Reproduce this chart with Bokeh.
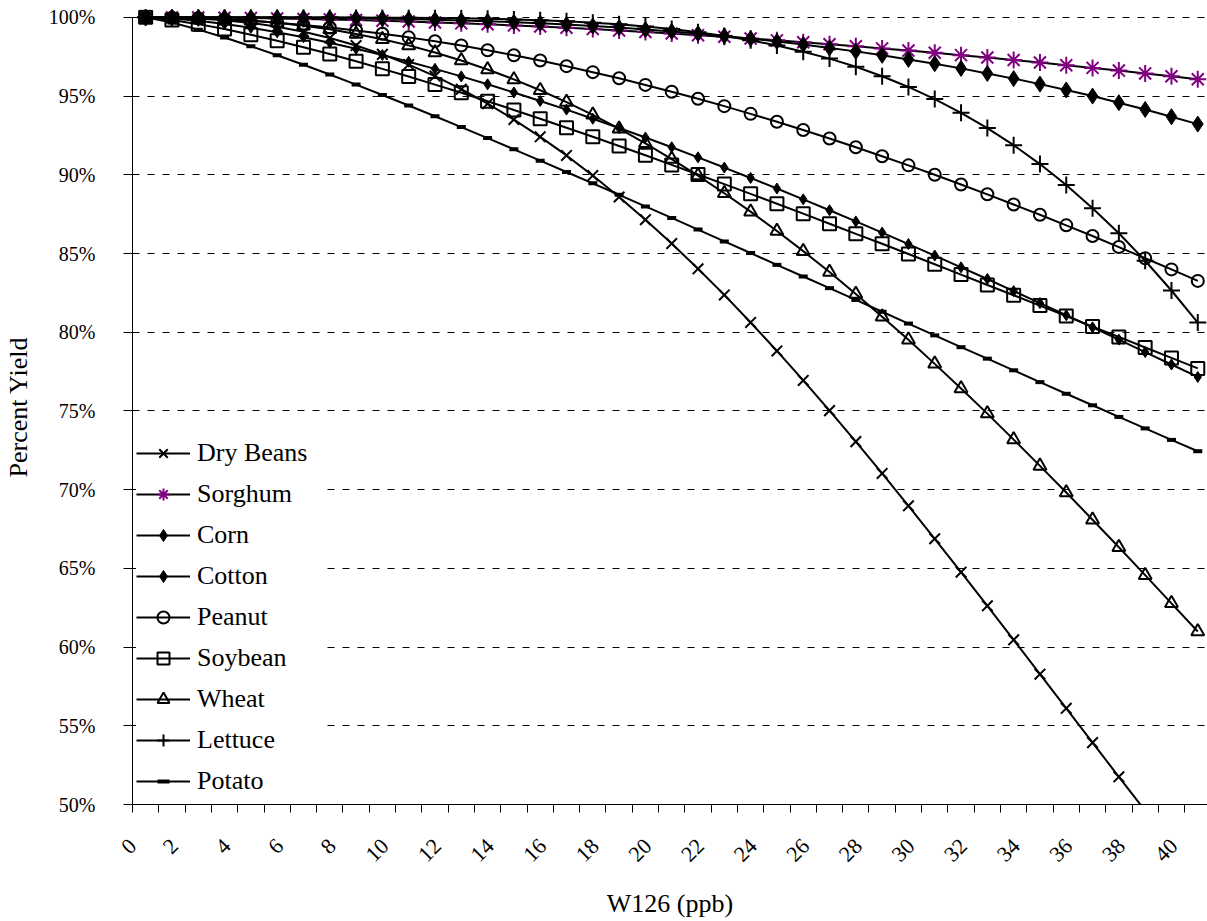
from math import pi
from bokeh.plotting import figure
from bokeh.models import Range1d, FixedTicker, PrintfTickFormatter, Legend, LegendItem
from bokeh.embed import file_html
from bokeh.resources import INLINE

# ---- data (percent yield) ----
w126 = [0, 1, 2, 3, 4, 5, 6, 7, 8, 9, 10, 11, 12, 13, 14, 15, 16, 17, 18, 19, 20,
        21, 22, 23, 24, 25, 26, 27, 28, 29, 30, 31, 32, 33, 34, 35, 36, 37, 38, 39, 40]
tick_labels = [0, 2, 4, 6, 8, 10, 12, 14, 16, 18, 20, 22, 24, 26, 28, 30, 32, 34, 36, 38, 40]
y_ticks = [50, 55, 60, 65, 70, 75, 80, 85, 90, 95, 100]

dry_beans = [100.00, 99.99, 99.93, 99.82, 99.65, 99.41, 99.09, 98.69, 98.21, 97.65, 97.00,
             96.27, 95.44, 94.52, 93.51, 92.41, 91.23, 89.95, 88.59, 87.15, 85.63,
             84.03, 82.37, 80.62, 78.81, 76.94, 75.02, 73.05, 71.03, 68.97, 66.88,
             64.76, 62.62, 60.46, 58.28, 56.11, 53.93, 51.76, 49.61, 47.46, 45.34]
sorghum = [100.00, 100.00, 99.99, 99.98, 99.96, 99.93, 99.90, 99.87, 99.83, 99.79, 99.74,
           99.68, 99.62, 99.56, 99.49, 99.42, 99.34, 99.26, 99.17, 99.07, 98.98,
           98.87, 98.77, 98.66, 98.54, 98.42, 98.29, 98.16, 98.03, 97.89, 97.75,
           97.60, 97.45, 97.29, 97.13, 96.96, 96.79, 96.62, 96.44, 96.26, 96.07]
corn = [100.00, 100.00, 100.00, 100.00, 99.99, 99.99, 99.97, 99.96, 99.94, 99.92, 99.89,
        99.85, 99.80, 99.75, 99.69, 99.62, 99.54, 99.45, 99.35, 99.23, 99.11,
        98.97, 98.82, 98.65, 98.47, 98.28, 98.06, 97.84, 97.59, 97.33, 97.06,
        96.76, 96.44, 96.11, 95.76, 95.39, 95.00, 94.58, 94.15, 93.69, 93.22]
cotton = [100.00, 99.93, 99.78, 99.58, 99.34, 99.05, 98.74, 98.39, 98.01, 97.61, 97.18,
          96.73, 96.25, 95.75, 95.23, 94.69, 94.14, 93.56, 92.97, 92.37, 91.75,
          91.11, 90.46, 89.80, 89.13, 88.44, 87.75, 87.04, 86.33, 85.60, 84.87,
          84.12, 83.38, 82.61, 81.85, 81.08, 80.31, 79.53, 78.74, 77.95, 77.16]
peanut = [100.00, 99.98, 99.94, 99.87, 99.78, 99.66, 99.52, 99.36, 99.17, 98.96, 98.73,
          98.48, 98.21, 97.91, 97.59, 97.26, 96.90, 96.52, 96.13, 95.71, 95.28,
          94.83, 94.36, 93.87, 93.37, 92.85, 92.31, 91.75, 91.18, 90.60, 90.00,
          89.38, 88.76, 88.11, 87.46, 86.79, 86.11, 85.41, 84.70, 83.99, 83.26]
soybean = [100.00, 99.83, 99.57, 99.26, 98.90, 98.52, 98.10, 97.67, 97.21, 96.73, 96.24,
           95.73, 95.21, 94.67, 94.12, 93.56, 92.99, 92.42, 91.83, 91.24, 90.63,
           90.02, 89.41, 88.79, 88.16, 87.53, 86.89, 86.25, 85.62, 84.97, 84.32,
           83.66, 83.00, 82.35, 81.69, 81.03, 80.36, 79.70, 79.03, 78.37, 77.70]
wheat = [100.00, 99.99, 99.96, 99.90, 99.80, 99.66, 99.47, 99.24, 98.95, 98.61, 98.22,
         97.77, 97.26, 96.69, 96.06, 95.37, 94.62, 93.81, 92.93, 92.00, 91.00,
         89.95, 88.83, 87.66, 86.43, 85.15, 83.82, 82.43, 80.99, 79.52, 77.99,
         76.43, 74.83, 73.18, 71.51, 69.82, 68.09, 66.34, 64.57, 62.78, 60.99]
lettuce = [100.00, 100.00, 100.00, 100.00, 100.00, 100.00, 100.00, 100.00, 99.99, 99.98, 99.97,
           99.96, 99.94, 99.91, 99.87, 99.82, 99.75, 99.66, 99.56, 99.42, 99.26,
           99.06, 98.82, 98.54, 98.21, 97.82, 97.38, 96.86, 96.26, 95.58, 94.81,
           93.94, 92.97, 91.88, 90.68, 89.35, 87.88, 86.29, 84.54, 82.65, 80.61]
potato = [100.00, 99.67, 99.22, 98.72, 98.17, 97.59, 96.99, 96.37, 95.73, 95.07, 94.40,
          93.72, 93.03, 92.33, 91.62, 90.90, 90.18, 89.46, 88.73, 87.99, 87.26,
          86.52, 85.77, 85.03, 84.28, 83.54, 82.80, 82.05, 81.30, 80.55, 79.80,
          79.05, 78.32, 77.58, 76.83, 76.09, 75.36, 74.62, 73.89, 73.16, 72.44]

series_names = ["Dry Beans", "Sorghum", "Corn", "Cotton", "Peanut", "Soybean", "Wheat", "Lettuce", "Potato"]
series_values = [dry_beans, sorghum, corn, cotton, peanut, soybean, wheat, lettuce, potato]

# marker styles (marker, size, line colour, fill colour, marker line width)
styles = [
    ("x", 15, "black", None, 2),
    ("asterisk", 17, "#800080", None, 2),
    ("diamond", 16, "black", "black", 1),
    ("diamond", 11, "black", "black", 1),
    ("circle", 12, "black", None, 2),
    ("square", 13, "black", None, 2),
    ("triangle", 13, "black", None, 2),
    ("cross", 17, "black", None, 2),
    ("dash", 9, "black", None, 4),
]

FONT = "Liberation Serif"

p = figure(width=1207, height=921, output_backend="svg", toolbar_location=None,
           x_range=Range1d(-0.5, 40.37), y_range=Range1d(50, 100.5),
           min_border_left=130, min_border_right=0, min_border_top=9, min_border_bottom=117)
p.outline_line_color = None
p.background_fill_color = "white"
p.border_fill_color = "white"

p.xgrid.visible = False
p.ygrid.grid_line_color = "black"
p.ygrid.grid_line_width = 1
p.ygrid.grid_line_dash = "7 8"

# x axis: labels every 2 (set slightly left of their category, as in the
# original), tick marks between categories
label_pos = [(-0.49 if v == 0 else round(v - 0.9, 2)) for v in tick_labels]
xa = p.xaxis[0]
xa.ticker = FixedTicker(ticks=label_pos, minor_ticks=[v - 0.5 for v in w126])
xa.major_label_overrides = {pos: str(v) for pos, v in zip(label_pos, tick_labels)}
xa.major_tick_in = 0
xa.major_tick_out = 0
xa.minor_tick_in = 0
xa.minor_tick_out = 8
xa.minor_tick_line_color = "black"
xa.axis_line_color = "black"
xa.major_label_orientation = pi / 4
xa.major_label_text_font = FONT
xa.major_label_text_font_size = "22px"
xa.major_label_text_color = "black"
xa.major_label_text_line_height = 1.0
xa.major_label_standoff = 30
xa.axis_label = "W126 (ppb)"
xa.axis_label_text_font = FONT
xa.axis_label_text_font_size = "26px"
xa.axis_label_text_font_style = "normal"
xa.axis_label_text_color = "black"
xa.axis_label_text_line_height = 1.0
xa.axis_label_standoff = 18

ya = p.yaxis[0]
ya.ticker = FixedTicker(ticks=y_ticks)
ya.formatter = PrintfTickFormatter(format="%d%%")
ya.bounds = (50, 100)
ya.major_tick_in = 0
ya.major_tick_out = 9
ya.minor_tick_line_color = None
ya.axis_line_color = "black"
ya.major_label_text_font = FONT
ya.major_label_text_font_size = "20px"
ya.major_label_text_color = "black"
ya.major_label_standoff = 28
ya.axis_label = "Percent Yield"
ya.axis_label_text_font = FONT
ya.axis_label_text_font_size = "26px"
ya.axis_label_text_font_style = "normal"
ya.axis_label_text_color = "black"
ya.axis_label_standoff = 13

items = []
for name, vals, (mk, sz, lc, fc, mlw) in zip(series_names, series_values, styles):
    lr = p.line(w126, vals, line_color="black", line_width=2)
    sr = p.scatter(w126, vals, marker=mk, size=sz, line_color=lc, line_width=mlw,
                   fill_color=fc if fc else None)
    items.append(LegendItem(label=name, renderers=[lr, sr]))

legend = Legend(items=items, location=(4, 8))
legend.label_text_font = FONT
legend.label_text_font_size = "26px"
legend.label_text_color = "black"
legend.glyph_width = 54
legend.glyph_height = 30
legend.label_height = 30
legend.label_width = 123
legend.spacing = 11
legend.padding = 5
legend.margin = 0
legend.label_standoff = 7
legend.border_line_color = None
legend.background_fill_color = "white"
legend.background_fill_alpha = 1.0
p.add_layout(legend)

open("out.html", "w").write(file_html(p, INLINE))
